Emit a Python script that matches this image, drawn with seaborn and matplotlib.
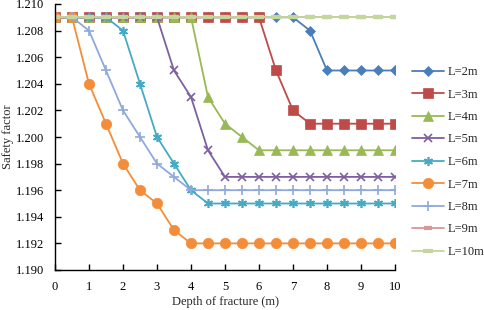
import numpy as np
import pandas as pd
import matplotlib
matplotlib.use("Agg")
import matplotlib.pyplot as plt
import seaborn as sns
from matplotlib.ticker import FormatStrFormatter

# depth of fracture (m), every 0.5 m
depth = [0, 0.5, 1, 1.5, 2, 2.5, 3, 3.5, 4, 4.5, 5, 5.5, 6, 6.5, 7, 7.5, 8, 8.5, 9, 9.5, 10]

# safety factor for each fracture length L
sf_L2 = [1.209] * 15 + [1.208, 1.205, 1.205, 1.205, 1.205, 1.205]
sf_L3 = [1.209] * 13 + [1.205, 1.202, 1.201, 1.201, 1.201, 1.201, 1.201, 1.201]
sf_L4 = [1.209] * 9 + [1.203, 1.201, 1.200] + [1.199] * 9
sf_L5 = [1.209] * 7 + [1.205, 1.203, 1.199] + [1.197] * 11
sf_L6 = [1.209] * 4 + [1.208, 1.204, 1.200, 1.198, 1.196] + [1.195] * 12
sf_L7 = [1.209] * 2 + [1.204, 1.201, 1.198, 1.196, 1.195, 1.193] + [1.192] * 13
sf_L8 = [1.209] * 2 + [1.208, 1.205, 1.202, 1.200, 1.198, 1.197] + [1.196] * 13
sf_L9 = [1.209] * 21
sf_L10 = [1.209] * 21

labels = ["L=2m", "L=3m", "L=4m", "L=5m", "L=6m", "L=7m", "L=8m", "L=9m", "L=10m"]
series = [sf_L2, sf_L3, sf_L4, sf_L5, sf_L6, sf_L7, sf_L8, sf_L9, sf_L10]

colors = ["#4A7EBB", "#BE4B48", "#98B954", "#7D60A0", "#46AAC5",
          "#F38D3A", "#8EA9DB", "#D99694", "#C3D69B"]
markers = ["D", "s", "^", "x", (6, 2, 0), "o", "+", "_", "_"]
msizes = [5, 6.5, 7, 6, 6.5, 7.5, 7.5, 6, 7]

rows = []
for lab, vals in zip(labels, series):
    for d, v in zip(depth, vals):
        rows.append({"depth": d, "sf": v, "L": lab})
df = pd.DataFrame(rows)

sns.set_style("ticks")
plt.rcParams["font.family"] = ["Liberation Serif", "DejaVu Serif"]
plt.rcParams["font.size"] = 9

fig = plt.figure(figsize=(4.84, 3.10), dpi=100)
ax = fig.add_axes([55 / 484, 1 - 270 / 310, (395 - 55) / 484, (270 - 4) / 310])

for lab, c, m, ms in zip(labels, colors, markers, msizes):
    mew = 1.2 if m in ["x", "+", (6, 2, 0)] else (3 if m == "_" else 0.5)
    sns.lineplot(data=df[df["L"] == lab], x="depth", y="sf", ax=ax,
                 color=c, marker=m, markersize=ms, markeredgecolor=c,
                 markeredgewidth=mew, linewidth=1.3, label=lab)

ax.set_xlim(0, 10)
ax.set_ylim(1.190, 1.210)
ax.set_xticks(range(0, 11))
ax.set_yticks(np.arange(1.190, 1.2101, 0.002))
ax.yaxis.set_major_formatter(FormatStrFormatter("%.3f"))
ax.tick_params(direction="in", length=4, width=1, labelsize=9, colors="black")
ax.tick_params(axis="x", pad=8)
ax.tick_params(axis="y", pad=8)
for s in ["top", "right"]:
    ax.spines[s].set_visible(False)
for s in ["left", "bottom"]:
    ax.spines[s].set_color("black")
    ax.spines[s].set_linewidth(1)

ax.set_xlabel("Depth of fracture (m)", fontsize=9, labelpad=2)
ax.set_ylabel("Safety factor", fontsize=9, labelpad=1)

ax.legend(loc="upper left", bbox_to_anchor=(412 / 484, 1 - 66 / 310),
          bbox_transform=fig.transFigure, frameon=False, fontsize=9,
          handlelength=2.56, labelspacing=0.84, handletextpad=0.32,
          borderpad=0, borderaxespad=0)

fig.savefig("out.png", dpi=100)
